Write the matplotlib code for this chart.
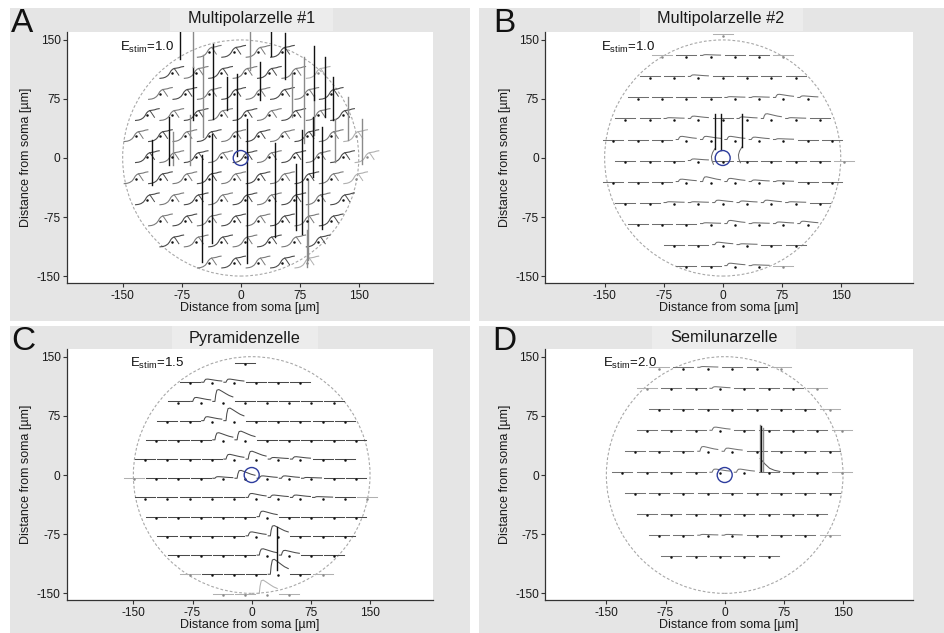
import matplotlib
matplotlib.use("Agg")
import matplotlib.pyplot as plt
from matplotlib.patches import Circle, Rectangle
import numpy as np

plt.rcParams['font.family'] = ['Liberation Sans', 'DejaVu Sans']
plt.rcParams['mathtext.fontset'] = 'custom'
plt.rcParams['mathtext.rm'] = 'Liberation Sans'
plt.rcParams['mathtext.it'] = 'Liberation Sans'
plt.rcParams['axes.unicode_minus'] = False

# ---------------------------------------------------------------- data
panel_letters = ["A", "B", "C", "D"]
panel_titles = ["Multipolarzelle #1", "Multipolarzelle #2", "Pyramidenzelle", "Semilunarzelle"]
stim_values = ["1.0", "1.0", "1.5", "2.0"]
tick_values = [-150, -75, 0, 75, 150]
axis_label = "Distance from soma [\u00b5m]"
field_radius = 150
soma_radius = 9.5

# electrode rows (hexagonal arrays): row y, first electrode x, electrode count, pitch
A_row_y = [135.0, 108.2, 81.5, 54.7, 27.9, 1.2, -25.6, -52.4, -79.2, -105.9, -132.7]
A_row_x0 = [-40.0, -87.6, -102.0, -118.6, -133.0, -118.6, -133.0, -118.6, -102.0, -87.6, -40.0]
A_row_n = [4, 7, 8, 9, 10, 10, 10, 9, 8, 7, 5]
A_pitch = 31.0

B_row_y = [156.0, 129.3, 102.6, 75.9, 49.2, 22.5, -4.2, -30.9, -57.6, -84.3, -111.0, -137.7]
B_row_x0 = [0.0, -77.25, -92.7, -108.15, -123.6, -139.05, -123.6, -139.05, -123.6, -108.15, -61.8, -46.35]
B_row_n = [1, 6, 7, 8, 9, 10, 10, 10, 9, 8, 6, 5]
B_pitch = 30.9

C_row_y = [141.0, 116.6, 92.3, 67.9, 43.6, 19.2, -5.1, -29.4, -53.8, -78.1, -102.5, -126.8, -151.2]
C_row_x0 = [-8.5, -78.75, -92.8, -106.85, -120.9, -134.95, -149.0, -134.95, -120.9, -106.85, -92.8, -78.75, -36.6]
C_row_n = [1, 6, 8, 9, 10, 10, 11, 11, 10, 9, 8, 7, 4]
C_pitch = 28.1

D_row_y = [135.5, 108.9, 82.3, 55.7, 29.1, 2.5, -24.1, -50.7, -77.3, -103.9]
D_row_x0 = [-83.25, -98.7, -83.25, -98.7, -114.15, -129.6, -114.15, -98.7, -83.25, -67.8]
D_row_n = [6, 8, 8, 9, 9, 10, 9, 8, 8, 5]
D_pitch = 30.9

# response amplitude (µm of plot height) of each electrode's trace, row by row
A_amp = [[1] * n for n in A_row_n]
B_amp = [
    [0],
    [0, 0, 1, 0, 0, 0],
    [0, 0, 2, 0, 0, 0, 0],
    [0, 0, 0, 0, 1, 1, 4, 2],
    [0, 0, 1, 3, 0, 2, 6, 1, 0],
    [0, 0, 0, 4, 4, 4, 3, 1, 0, 0],
    [0, 0, 0, 2, 0, 0, 0, 0, 0, 0],
    [0, 0, 0, 3, 6, 4, 2, 1, 0, 0],
    [0, 0, 1, 1, 3, 2, 3, 1, 0],
    [0, 0, 0, 1, 4, 1, 2, 3],
    [0, 0, 3, 1, 0, 0],
    [0, 0, 3, 1, 0],
]
C_amp = [
    [0],
    [0, 4, 4, 0, 0, 0],
    [0, 5, 15, 0, 0, 0, 0, 0],
    [0, 0, 5, 16, 0, 0, 0, 0, 0],
    [0, 0, 0, 9, 11, 0, 0, 0, 0, 0],
    [0, 0, 0, 0, 6, 10, 2, 3, 0, 0],
    [0, 0, 0, 0, 2, 10, 3, 3, 1, 0, 0],
    [0, 0, 0, 0, 0, 5, 3, 3, 1, 0, 0],
    [0, 0, 0, 0, 0, 7, 0, 0, 0, 0],
    [0, 0, 0, 0, 5, 13, 0, 0, 0],
    [0, 0, 0, 0, 8, 6, 0, 0],
    [0, 0, 0, 0, 19, 0, 0],
    [0, 0, 17, 0],
]
D_amp = [
    [0, 0, 1, 0, 0, 0],
    [0, 0, 0, 2, 0, 0, 0, 0],
    [0, 0, 0, 0, 0, 0, 0, 0],
    [0, 0, 0, 4, 0, 0, 0, 0, 0],
    [0, 0, 0, 6, 4, 0, 0, 0, 0],
    [0, 0, 0, 0, 4, 4, 0, 0, 0, 0],
    [0, 0, 0, 0, 0, 0, 0, 0, 0],
    [0, 0, 0, 0, 0, 0, 0, 0],
    [0, 0, 1, 1, 0, 0, 0, 0],
    [0, 0, 0, 0, 0],
]

# trace shapes (time mapped to horizontal offset from the electrode, µm)
bump_t = [-12.7, -10.0, -9.0, -7.5, -5.0, -1.0, 4.0, 8.0, 12.7]
bump_v = [0.0, 0.0, 0.55, 0.95, 1.0, 0.85, 0.65, 0.5, 0.38]
sweep_t = [-15.0, -11.0, -8.0, -5.0, -3.0, -1.0, 1.0, 3.0, 6.0, 9.0, 12.0, 15.0]
sweep_v = [-7.0, -6.5, -5.5, -3.5, -1.0, 2.5, 4.5, 5.5, 6.0, 6.5, 7.5, 8.0]
hook_t = [3.0, 5.0, 7.0, 9.0]
hook_v = [5.5, 3.0, 0.0, -3.0]

# action potentials: x, foot, peak (µm), grey flag
A_spike_x = [-113, -91, -85.5, -77, -60, -60, -49.6, -47.5, -64.4, -34.8, -37, -17.8, -5, 8, 11.9,
             24.6, 38, 43.6, 56.3, 64.8, 77.5, 83.9, 92.5, 92.5, 107, 103, 80.4, 91.5, 136.7, 153.7,
             119.8, 70, 85.5, 117.7]
A_spike_bot = [-34, -9, -9, 126, 48, 116, -132, 27, -8.5, 50, -108, 61, 2, -134, 112,
               74, 129, -100, 101, 52.5, -96, -138, 29, 74, 52.5, -90, 19, -24, 23, -7,
               -5, -91.5, -130, 48]
A_spike_top = [23, 52, 33, 160, 116, 160, 4, 131, 54.6, 145, 30, 103, 107, 50, 160,
               122, 160, 18.6, 159, 107.6, 35.6, -91.5, 80, 142, 128.7, 40, 128.7, 52.5, 78, 50,
               50, -7, -28, 103]
A_spike_grey = [0, 0, 1, 0, 0, 1, 0, 1, 1, 0, 0, 0, 0, 0, 1,
                0, 0, 0, 0, 1, 0, 1, 1, 0, 0, 0, 1, 0, 1, 1,
                1, 0, 1, 0]

B_spike_x = [-9.8, -2.5, 24.5]
B_spike_bot = [12, 10, 14]
B_spike_top = [55.5, 55.5, 55.5]
B_spike_grey = [0, 0, 0]
B_tail_dx = [0.0, -3.0, -4.5, -4.0, -2.0]
B_tail_dy = [0.0, -5.0, -10.0, -15.0, -20.0]

C_spike_x = [31.7]
C_spike_bot = [-120]
C_spike_top = [-65.5]
C_spike_grey = [0]

D_spike_x = [44.4, 46.5, 48.6]
D_spike_bot = [5, 5, 5]
D_spike_top = [64, 62, 60]
D_spike_grey = [1, 0, 1]
D_tail_x = [45.0, 51.0, 57.0, 63.0, 70.0]
D_tail_y = [21.0, 14.0, 8.5, 6.0, 4.5]

# ---------------------------------------------------------------- layout
W, H = 944, 633
fig = plt.figure(figsize=(W / 100, H / 100), dpi=100)
fig.patch.set_facecolor("white")

def fx(x):
    return x / W

def fy(y):
    return 1 - y / H

panel_box = [(10, 8, 470, 321), (479, 8, 944, 321), (10, 326, 470, 633), (479, 326, 944, 633)]
strip_box = [(170, 8, 333, 31), (640, 8, 803, 31), (172, 326, 318, 349), (652, 326, 796, 349)]
title_pos = [(251.7, 19), (721, 19), (245, 338), (724, 338)]
letter_pos = [(11, 24), (493, 24), (11, 341), (492, 341)]
ax_box = [(66.7, 32.3, 433.3, 283.3), (545.3, 32.3, 913, 283.3),
          (66.7, 348.7, 433.3, 600.3), (545.3, 348.7, 913, 600.3)]
xlims = [(-221.1, 244.7), (-225.4, 241.8), (-234.5, 230.2), (-227.4, 238.7)]
ylims = [(-159.2, 159.7), (-159.2, 159.7), (-158.8, 160.1), (-158.8, 160.1)]
xlabel_y = [308.5, 308.5, 625, 625]
ylabel_x = [26.5, 505, 26.5, 505]
trace_col = ["#505050", "#6e6e6e", "#4a4a4a", "#747474"]

for (x0, y0, x1, y1) in panel_box:
    fig.patches.append(Rectangle((fx(x0), fy(y1)), fx(x1 - x0), (y1 - y0) / H,
                                 transform=fig.transFigure, fc="#e5e5e5", ec="none", zorder=-5))
for (x0, y0, x1, y1) in strip_box:
    fig.patches.append(Rectangle((fx(x0), fy(y1)), fx(x1 - x0), (y1 - y0) / H,
                                 transform=fig.transFigure, fc="#ececec", ec="none", zorder=-4))

rows = [(A_row_y, A_row_x0, A_row_n, A_pitch, A_amp),
        (B_row_y, B_row_x0, B_row_n, B_pitch, B_amp),
        (C_row_y, C_row_x0, C_row_n, C_pitch, C_amp),
        (D_row_y, D_row_x0, D_row_n, D_pitch, D_amp)]
spikes = [(A_spike_x, A_spike_bot, A_spike_top, A_spike_grey),
          (B_spike_x, B_spike_bot, B_spike_top, B_spike_grey),
          (C_spike_x, C_spike_bot, C_spike_top, C_spike_grey),
          (D_spike_x, D_spike_bot, D_spike_top, D_spike_grey)]

for p in range(4):
    L, T, R, Bm = ax_box[p]
    ax = fig.add_axes([fx(L), fy(Bm), fx(R - L), (Bm - T) / H])
    ax.set_zorder(1)
    ax.set_facecolor("white")
    ax.set_xlim(*xlims[p])
    ax.set_ylim(*ylims[p])
    for s in ["top", "right"]:
        ax.spines[s].set_visible(False)
    for s in ["left", "bottom"]:
        ax.spines[s].set_color("#333333")
        ax.spines[s].set_linewidth(0.9)
    ax.set_xticks(tick_values)
    ax.set_yticks(tick_values)
    ax.tick_params(length=3, width=0.8, color="#333333", labelsize=8.6, pad=1.5, labelcolor="#1a1a1a")

    # recording field and soma
    ax.add_patch(Circle((0, 0), field_radius, fill=False, ec="#a8a8a8", lw=0.8,
                        ls=(0, (2.5, 1.8)), zorder=1))

    ry, rx0, rn, pitch, amp = rows[p]
    for r, yy in enumerate(ry):
        for i in range(rn[r]):
            xx = rx0[r] + pitch * i
            outside = np.hypot(xx, yy) > 146
            col = "#b0b0b0" if outside else trace_col[p]
            if p == 0:
                col = "#b0b0b0" if outside else ("#4a4a4a" if (r + i) % 2 else "#7a7a7a")
                tt = np.array(sweep_t) + xx
                vv = np.array(sweep_v) * amp[r][i] + yy
                ax.plot(tt, vv, color=col, lw=0.8, zorder=2)
                ax.plot(np.array(hook_t) + xx, np.array(hook_v) * amp[r][i] + yy,
                        color=col, lw=0.7, zorder=2)
            else:
                tt = np.array(bump_t) + xx
                vv = np.array(bump_v) * amp[r][i] + yy + 1.0
                ax.plot(tt, vv, color=col, lw=0.75, zorder=2)
            ax.plot([xx], [yy - 0.5], "o", ms=1.8, color="#111111" if not outside else "#888888",
                    mec="none", zorder=4)

    sx, sb, st, sg = spikes[p]
    for k in range(len(sx)):
        ax.plot([sx[k], sx[k]], [sb[k], st[k]], color="#8a8a8a" if sg[k] else "#111111",
                lw=1.0, zorder=3)
    if p == 1:
        for k in [0, 2]:
            ax.plot(np.array(B_tail_dx) + sx[k], np.array(B_tail_dy) + sb[k],
                    color="#6a6a6a", lw=0.75, zorder=2)
    if p == 3:
        ax.plot(D_tail_x, D_tail_y, color="#5a5a5a", lw=0.75, zorder=2)

    ax.add_patch(Circle((0, 0), soma_radius, fill=False, ec="#2e3d9e", lw=1.0, zorder=5))

    ax.text(-154, 141, r"$\mathregular{E_{stim}}$=" + stim_values[p], fontsize=9.5,
            ha="left", va="center", color="#111111", zorder=6)

    # panel decorations
    tx, ty = title_pos[p]
    fig.text(fx(tx), fy(ty), panel_titles[p], fontsize=11.7, ha="center", va="center",
             color="#1a1a1a")
    lx, ly = letter_pos[p]
    fig.text(fx(lx), fy(ly), panel_letters[p], fontsize=24, ha="left", va="center",
             color="#111111")
    fig.text(fx((L + R) / 2), fy(xlabel_y[p]), axis_label, fontsize=9, ha="center",
             va="center", color="#1a1a1a")
    fig.text(fx(ylabel_x[p]), fy((T + Bm) / 2), axis_label, fontsize=9, ha="center",
             va="center", rotation=90, color="#1a1a1a")

fig.savefig("out.png", dpi=100, facecolor="white")
